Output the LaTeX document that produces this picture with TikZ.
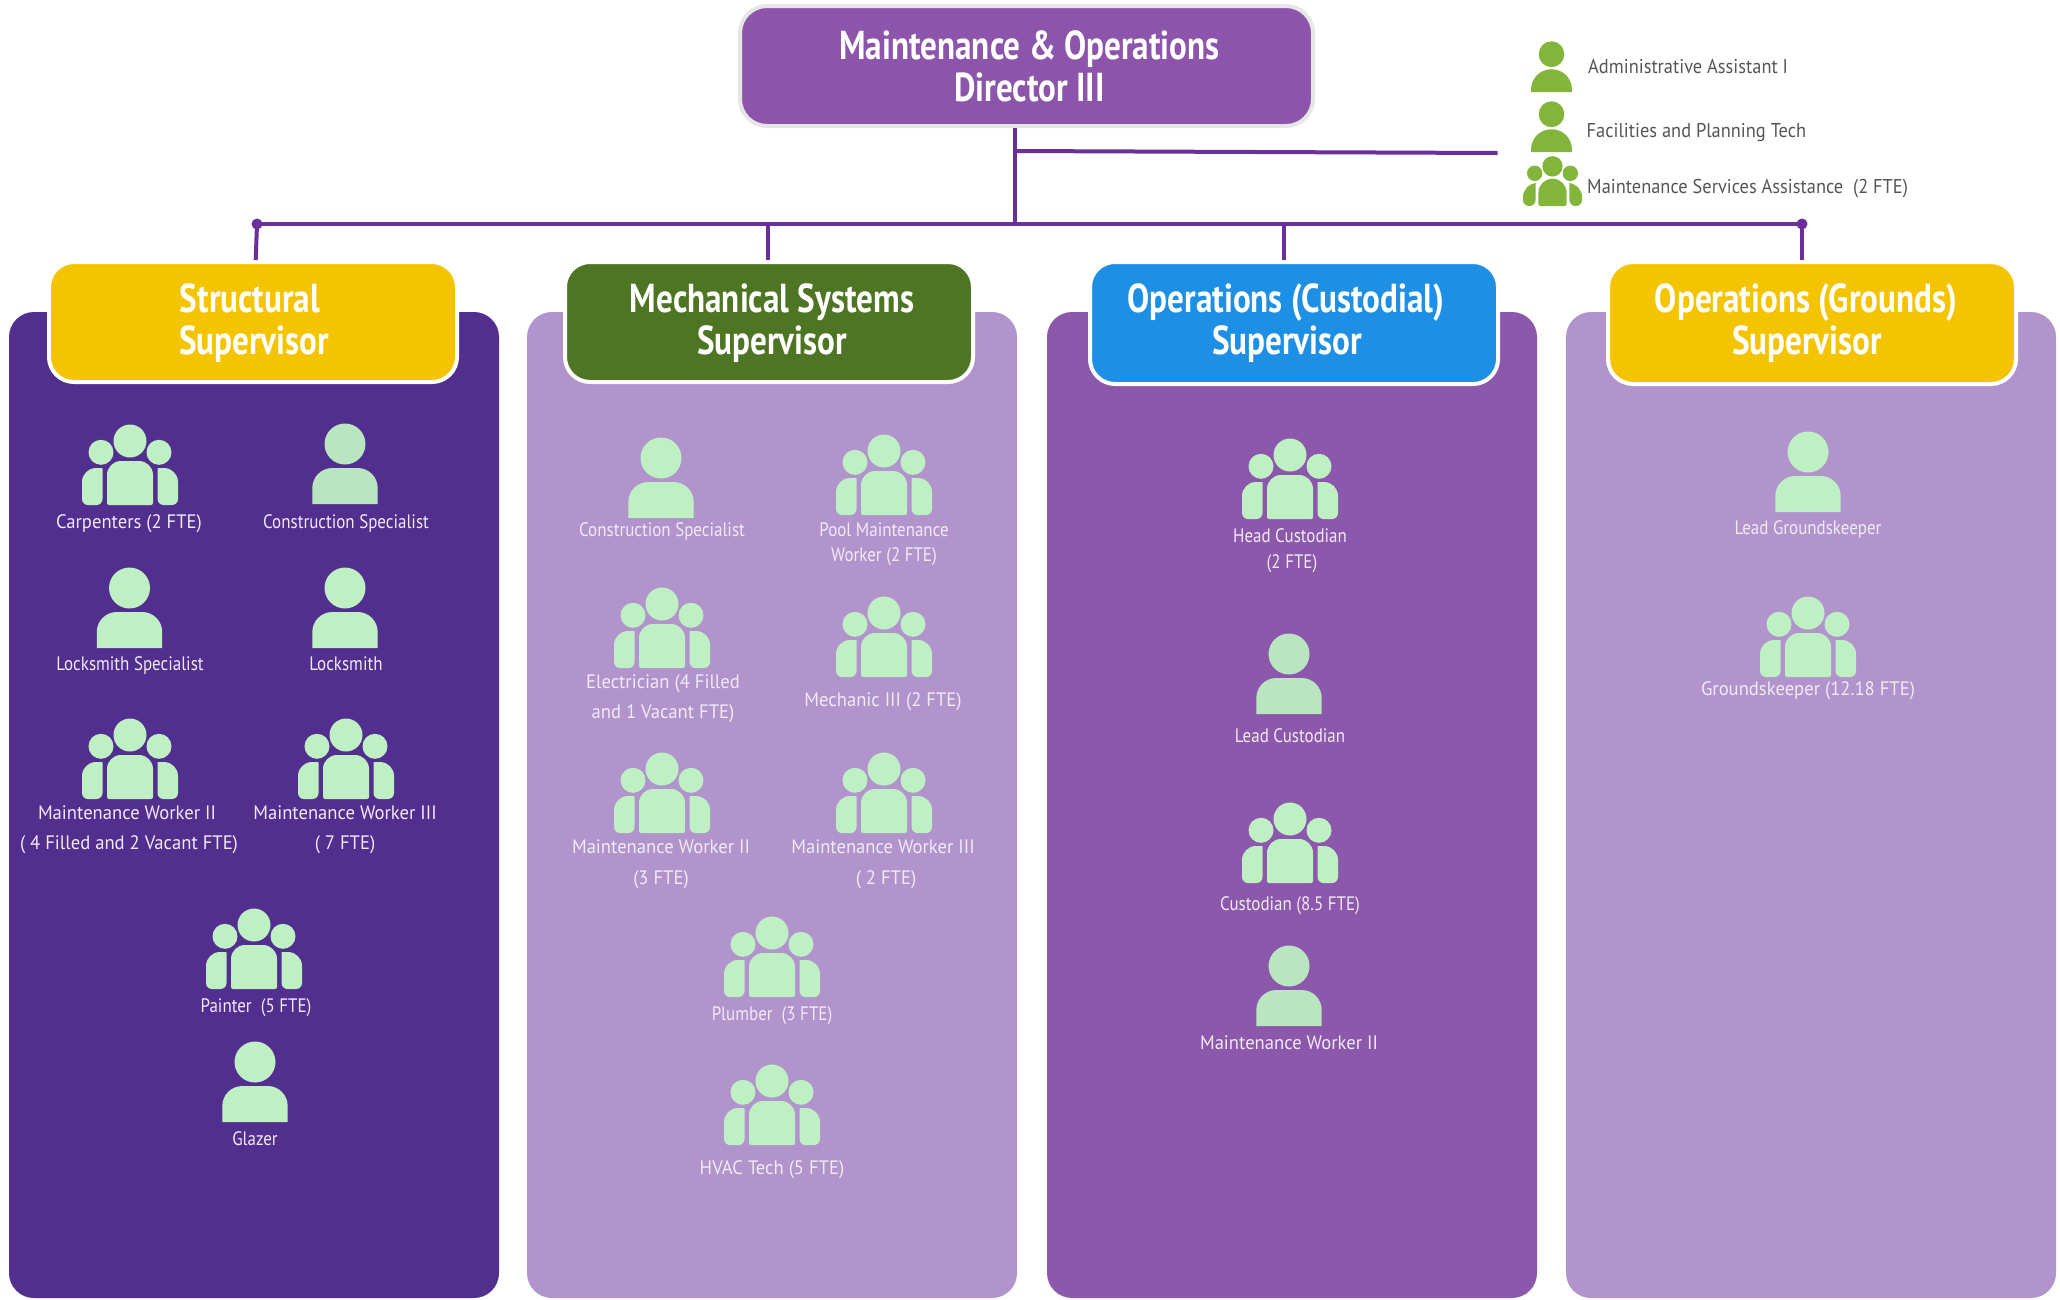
\documentclass[tikz,border=0pt]{standalone}
\usepackage{fontspec}
\setmainfont{PT Sans}[FakeStretch=0.82]
\newfontfamily\smfont{PT Sans}[FakeStretch=0.87]
\newfontfamily\lgfont{PT Sans}[FakeStretch=0.955]
\newfontfamily\tpfont{PT Sans}[FakeStretch=0.92]
\definecolor{panA}{HTML}{522E8E}
\definecolor{panB}{HTML}{B194CB}
\definecolor{panC}{HTML}{8B58AB}
\definecolor{dirfill}{HTML}{8C55AB}
\definecolor{dirline}{HTML}{E6E6E6}
\definecolor{linkc}{HTML}{6A2F9B}
\definecolor{yell}{HTML}{F5C400}
\definecolor{grn}{HTML}{4E7524}
\definecolor{blu}{HTML}{1D8FE5}
\definecolor{mint}{HTML}{BFF0C3}
\definecolor{mintb}{HTML}{B9E6C0}
\definecolor{leaf}{HTML}{82B53A}
\definecolor{labc}{HTML}{F1EAF6}
\definecolor{darkc}{HTML}{555555}
\tikzset{
  x=1pt,y=-1pt,
  panel/.style={rounded corners=25},
  supbox/.style={draw=white,line width=4,rounded corners=25,inner sep=0},
  dirbox/.style={draw=dirline,line width=4,fill=dirfill,rounded corners=27,inner sep=0},
  link/.style={draw=linkc,line width=4},
  dot/.style={circle,fill=linkc,minimum size=11,inner sep=0},
  title/.style={anchor=base,text=white,inner sep=0,font=\bfseries\fontsize{40.4}{42}\selectfont},
  lab/.style={anchor=base,text=labc,inner sep=0,font=\smfont\fontsize{19.5}{21}\selectfont},
  lablg/.style={anchor=base,text=labc,inner sep=0,font=\lgfont\fontsize{19.5}{21}\selectfont},
  toplab/.style={anchor=base west,text=darkc,inner sep=0,font=\tpfont\fontsize{20}{22}\selectfont},
  crew/.pic={
    \fill[pic actions] (0,-64) circle[radius=16.5];
    \fill[pic actions] (-29,-52.7) circle[radius=12.5];
    \fill[pic actions] (29,-52.7) circle[radius=12.5];
    \fill[pic actions,rounded corners=2] (-23,0) [rounded corners=14] -- (-23,-44) -- (23,-44) [rounded corners=2] -- (23,0) -- cycle;
    \fill[pic actions,rounded corners=0.5] (-27.5,0) -- (-27.5,-37) [rounded corners=14] -- (-48,-37) [rounded corners=6] -- (-48,0) -- cycle;
    \fill[pic actions,rounded corners=0.5] (27.5,0) -- (27.5,-37) [rounded corners=14] -- (48,-37) [rounded corners=6] -- (48,0) -- cycle;
  },
  solo/.pic={
    \fill[pic actions] (0,-60) circle[radius=20.5];
    \fill[pic actions] (-32.7,0) [rounded corners=20] -- (-32.7,-36) -- (32.7,-36) [rounded corners=0] -- (32.7,0) -- cycle;
  },
}
\newcommand{\plab}[5]{\node[#1] (#2) at (#3,#4+6.5) {#5};}
\begin{document}
\begin{tikzpicture}
\useasboundingbox (0,0) rectangle (2060,1299);
% panels
\fill[panel,panA] (9,312) rectangle (499,1298);
\fill[panel,panB] (527,312) rectangle (1017,1298);
\fill[panel,panC] (1047,312) rectangle (1537,1298);
\fill[panel,panB] (1566,312) rectangle (2056,1298);
% director
\node[dirbox,minimum width=573,minimum height=120] (dir) at (1026.5,66) {};
\node[title] (dirA) at (1029.5,59) {Maintenance \& Operations};
\node[title] (dirB) at (1029.5,101) {Director III};
% supervisors
\node[supbox,fill=yell,minimum width=408,minimum height=120] (supA) at (253,322) {};
\node[supbox,fill=grn,minimum width=408,minimum height=120] (supB) at (769,322) {};
\node[supbox,fill=blu,minimum width=408,minimum height=122] (supC) at (1294,323) {};
\node[supbox,fill=yell,minimum width=408,minimum height=122] (supD) at (1812,323) {};
\node[title] (tA1) at (250,312) {Structural};
\node[title] (tA2) at (254,354.5) {Supervisor};
\node[title] (tB1) at (772,312) {Mechanical Systems};
\node[title] (tB2) at (772,354.5) {Supervisor};
\node[title] (tC1) at (1286,312) {Operations (Custodial)};
\node[title] (tC2) at (1287,354.5) {Supervisor};
\node[title] (tD1) at (1806,312) {Operations (Grounds)};
\node[title] (tD2) at (1807,354.5) {Supervisor};
% connectors
\coordinate (busL) at (257,224);
\coordinate (busR) at (1802,224);
\coordinate (busM) at (1015,224);
\coordinate (dirS) at (1015,128);
\coordinate (staffL) at (1015,151);
\coordinate (staffR) at (1497.6,153);
\coordinate (dropA) at (255.7,260);
\coordinate (dropB) at (768,260);
\coordinate (dropC) at (1284,260);
\coordinate (dropD) at (1802,260);
\coordinate (upB) at (768,224);
\coordinate (upC) at (1284,224);
\draw[link] (dirS) -- (busM);
\draw[link] (staffL) -- (staffR);
\draw[link] (busL) -- (busR);
\draw[link] (busL) -- (dropA);
\draw[link] (upB) -- (dropB);
\draw[link] (upC) -- (dropC);
\draw[link] (busR) -- (dropD);
\node[dot] (dotL) at (busL) {};
\node[dot] (dotR) at (busR) {};
% staff
\pic[fill=leaf,xscale=.625,yscale=.63] at (1551.5,92) {solo};
\pic[fill=leaf,xscale=.625,yscale=.63] at (1551.5,152) {solo};
\pic[fill=leaf,xscale=.615,yscale=.62] at (1552.5,206) {crew};
\plab{toplab}{sA}{1588}{67}{Administrative Assistant I}
\plab{toplab}{sB}{1586.5}{131}{Facilities and Planning Tech}
\plab{toplab}{sC}{1587}{187}{Maintenance Services Assistance\ \ (2 FTE)}
% panel 1
\pic[fill=mint] at (130,505) {crew};
\plab{lablg}{a1}{129}{522}{Carpenters (2 FTE)}
\pic[fill=mintb] at (345,504) {solo};
\plab{lab}{a2}{346}{522}{Construction Specialist}
\pic[fill=mint] at (129.5,648) {solo};
\plab{lab}{a3}{130}{664}{Locksmith Specialist}
\pic[fill=mint] at (345,648) {solo};
\plab{lab}{a4}{346}{664}{Locksmith}
\pic[fill=mint] at (130,799) {crew};
\plab{lablg}{a5}{127}{813}{Maintenance Worker II}
\plab{lablg}{a5b}{129}{843}{( 4 Filled and 2 Vacant FTE)}
\pic[fill=mint] at (346,799) {crew};
\plab{lablg}{a6}{345}{813}{Maintenance Worker III}
\plab{lablg}{a6b}{345}{843}{( 7 FTE)}
\pic[fill=mint] at (254,989) {crew};
\plab{lab}{a7}{256}{1006}{Painter\ \ (5 FTE)}
\pic[fill=mint] at (255,1122) {solo};
\plab{lab}{a8}{255}{1139}{Glazer}
% panel 2
\pic[fill=mint] at (661,518) {solo};
\plab{lab}{b1}{662}{530}{Construction Specialist}
\pic[fill=mint] at (884,515) {crew};
\plab{lab}{b2}{884}{530}{Pool Maintenance}
\plab{lab}{b2b}{884}{555}{Worker (2 FTE)}
\pic[fill=mint] at (662,668) {crew};
\plab{lablg}{b3}{663}{682}{Electrician (4 Filled}
\plab{lablg}{b3b}{663}{712}{and 1 Vacant FTE)}
\pic[fill=mint] at (884,677) {crew};
\plab{lablg}{b4}{883}{700}{Mechanic III (2 FTE)}
\pic[fill=mint] at (662,833) {crew};
\plab{lablg}{b5}{661}{847}{Maintenance Worker II}
\plab{lablg}{b5b}{661}{878}{(3 FTE)}
\pic[fill=mint] at (884,833) {crew};
\plab{lablg}{b6}{883}{847}{Maintenance Worker III}
\plab{lablg}{b6b}{886}{878}{( 2 FTE)}
\pic[fill=mint] at (772,997) {crew};
\plab{lab}{b7}{772}{1014}{Plumber\ \ (3 FTE)}
\pic[fill=mint] at (772,1145) {crew};
\plab{lablg}{b8}{772}{1168}{HVAC Tech (5 FTE)}
% panel 3
\pic[fill=mint] at (1290,519) {crew};
\plab{lab}{c1}{1290}{536}{Head Custodian}
\plab{lab}{c1b}{1292}{562}{(2 FTE)}
\pic[fill=mintb] at (1289,714) {solo};
\plab{lab}{c2}{1290}{736}{Lead Custodian}
\pic[fill=mint] at (1290,883) {crew};
\plab{lab}{c3}{1290}{904}{Custodian (8.5 FTE)}
\pic[fill=mintb] at (1289,1026) {solo};
\plab{lablg}{c4}{1289}{1043}{Maintenance Worker II}
% panel 4
\pic[fill=mint] at (1808,512) {solo};
\plab{lab}{d1}{1808}{528}{Lead Groundskeeper}
\pic[fill=mint] at (1808,677) {crew};
\plab{lablg}{d2}{1808}{689}{Groundskeeper (12.18 FTE)}
\end{tikzpicture}
\end{document}
